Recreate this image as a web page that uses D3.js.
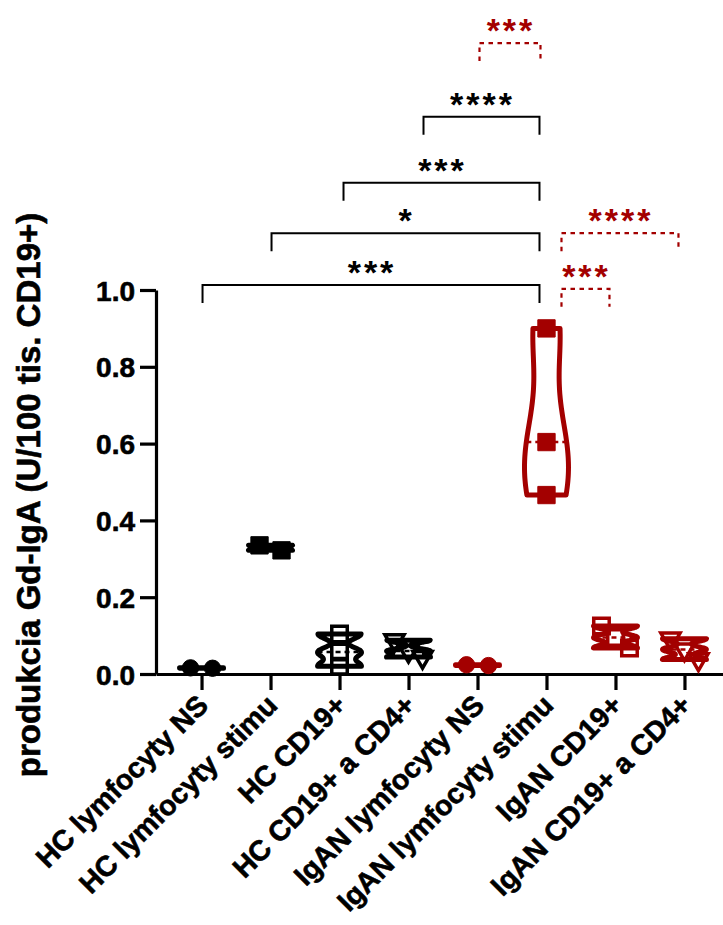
<!DOCTYPE html>
<html>
<head>
<meta charset="utf-8">
<script src="https://cdn.jsdelivr.net/npm/d3@7"></script>
<style>
  body { margin: 0; background: #fff; }
  text { font-family: "Liberation Sans", Arial, sans-serif; font-weight: bold; }
</style>
</head>
<body>
<svg id="chart" width="723" height="925"></svg>
<script>
// data
const categories = ["HC lymfocyty NS", "HC lymfocyty stimu", "HC CD19+", "HC CD19+ a CD4+",
                    "IgAN lymfocyty NS", "IgAN lymfocyty stimu", "IgAN CD19+", "IgAN CD19+ a CD4+"];
const cohorts = ["HC", "HC", "HC", "HC", "IgAN", "IgAN", "IgAN", "IgAN"];
const values = [
  [0.016, 0.015],
  [0.335, 0.322],
  [0.104, 0.057, 0.020],
  [0.088, 0.060, 0.044],
  [0.024, 0.022],
  [0.900, 0.604, 0.466],
  [0.125, 0.095, 0.068],
  [0.092, 0.064, 0.038]
];
const markers = ["circle", "square", "openSquare", "openTriangleDown",
                 "circle", "square", "openSquare", "openTriangleDown"];
const yTicks = [0, 0.2, 0.4, 0.6, 0.8, 1.0];
// significance brackets: from group, to group, label
const comparisons = [
  { a: 0, b: 5, label: "***",  cohort: "HC" },
  { a: 1, b: 5, label: "*",    cohort: "HC" },
  { a: 2, b: 5, label: "***",  cohort: "HC" },
  { a: 3, b: 5, label: "****", cohort: "HC" },
  { a: 4, b: 5, label: "***",  cohort: "IgAN" },
  { a: 5, b: 7, label: "****", cohort: "IgAN" },
  { a: 5, b: 6, label: "***",  cohort: "IgAN" }
];

const colors = { HC: "#000000", IgAN: "#a30000" };

// layout
const svg = d3.select("#chart");
const y = d3.scaleLinear().domain([0, 1]).range([674, 290]);
const x = d3.scalePoint().domain(categories).range([156, 730]).padding(0.66);

// bracket levels (in y units) and end nudges, as GraphPad stacks them
const bracketLayout = [
  { level: 1.013, da: 1,  db: -7 },
  { level: 1.148, da: 1,  db: -7 },
  { level: 1.279, da: 4,  db: -7 },
  { level: 1.451, da: 15, db: -7 },
  { level: 1.643, da: 2,  db: -6 },
  { level: 1.148, da: 15, db: -6 },
  { level: 1.003, da: 15, db: -6 }
];

// heavier look of the original bold text
function heavy(sel, col) {
  sel.attr("stroke", col || "#000").attr("stroke-width", 0.6).attr("paint-order", "stroke");
}

// y axis
const yAxis = svg.append("g")
  .attr("transform", "translate(156,0)")
  .call(d3.axisLeft(y).tickValues(yTicks).tickFormat(d3.format(".1f")).tickSize(16).tickSizeOuter(0));
yAxis.select(".domain").attr("stroke-width", 3.2);
yAxis.selectAll(".tick line").attr("stroke-width", 3.2);
yAxis.selectAll(".tick text").attr("font-size", 28).attr("x", -21).attr("dy", "0.36em")
  .attr("font-family", "Liberation Sans, Arial, sans-serif").attr("font-weight", "bold").attr("fill", "#000")
  .call(heavy);

// x axis
const xAxis = svg.append("g")
  .attr("transform", "translate(0,674)")
  .call(d3.axisBottom(x).tickSize(16).tickSizeOuter(0));
xAxis.select(".domain").attr("stroke-width", 3.2);
xAxis.selectAll(".tick line").attr("stroke-width", 3.2);
xAxis.selectAll(".tick text")
  .attr("font-size", 28.5)
  .attr("font-family", "Liberation Sans, Arial, sans-serif").attr("font-weight", "bold").attr("fill", "#000")
  .attr("text-anchor", "end")
  .attr("transform", "translate(8,33) rotate(-45)")
  .attr("x", 0).attr("y", 0).attr("dy", 0)
  .call(heavy);

// y title
svg.append("text")
  .attr("transform", "translate(40,495) rotate(-90)")
  .attr("text-anchor", "middle")
  .attr("font-size", 33)
  .text("produkcia Gd-IgA (U/100 tis. CD19+)")
  .call(heavy);

// violins (kernel density truncated at min/max)
function kde(vals, h) {
  return v => d3.sum(vals, d => Math.exp(-((v - d) ** 2) / (2 * h * h)));
}
const halfWidth = 22;
values.forEach((vals, i) => {
  const cx = x(categories[i]);
  const lo = d3.min(vals), hi = d3.max(vals);
  const sd = d3.deviation(vals) || 0.001;
  const h = 0.89 * Math.pow(sd, 1.33);
  const dens = kde(vals, h);
  const grid = d3.range(0, 61).map(k => lo + (hi - lo) * k / 60);
  const dmax = d3.max(grid, dens);
  const pts = grid.map(v => ({ v, w: dens(v) / dmax * halfWidth }));
  const area = d3.area()
    .y(d => y(d.v))
    .x0(d => cx - d.w)
    .x1(d => cx + d.w)
    .curve(d3.curveBasis);
  svg.append("path")
    .datum(pts)
    .attr("d", area)
    .attr("fill", "none")
    .attr("stroke", colors[cohorts[i]])
    .attr("stroke-width", 5)
    .attr("stroke-linejoin", "round");
  // median line
  const med = d3.median(vals);
  const mw = dens(med) / dmax * halfWidth;
  svg.append("line")
    .attr("x1", cx - mw).attr("x2", cx + mw)
    .attr("y1", y(med)).attr("y2", y(med))
    .attr("stroke", colors[cohorts[i]])
    .attr("stroke-width", 2.5)
    .attr("stroke-dasharray", "5,4");
});

// points, spread sideways when they overlap
function spread(vals) {
  const order = vals.map((v, i) => i).sort((p, q) => vals[q] - vals[p]);
  const off = new Array(vals.length).fill(0);
  let cluster = [order[0]];
  const flush = () => {
    const n = cluster.length;
    const step = n === 2 ? 22 : 14;
    cluster.forEach((idx, k) => { off[idx] = (k - (n - 1) / 2) * step; });
  };
  for (let k = 1; k < order.length; k++) {
    const prev = order[k - 1], cur = order[k];
    if (Math.abs(y(vals[cur]) - y(vals[prev])) < 14) cluster.push(cur);
    else { flush(); cluster = [cur]; }
  }
  flush();
  return off;
}

const symbolFor = {
  circle: d3.symbol().type(d3.symbolCircle).size(210),
  square: d3.symbol().type(d3.symbolSquare).size(300),
  openSquare: d3.symbol().type(d3.symbolSquare).size(240),
  openTriangleDown: d3.symbol().type(d3.symbolTriangle).size(160)
};

values.forEach((vals, i) => {
  const cx = x(categories[i]);
  const off = spread(vals);
  const col = colors[cohorts[i]];
  const m = markers[i];
  const open = m.startsWith("open");
  svg.append("g").selectAll("path")
    .data(vals)
    .join("path")
    .attr("d", symbolFor[m]())
    .attr("transform", (d, k) => `translate(${cx + off[k]},${y(d)})` + (m === "openTriangleDown" ? " rotate(180)" : ""))
    .attr("fill", open ? "none" : col)
    .attr("stroke", col)
    .attr("stroke-width", open ? 3.5 : 1);
});

// significance brackets
comparisons.forEach((c, i) => {
  const L = bracketLayout[i];
  const col = colors[c.cohort];
  const x1 = x(categories[c.a]) + L.da;
  const x2 = x(categories[c.b]) + L.db;
  const yy = y(L.level);
  const dashed = c.cohort === "IgAN";
  svg.append("path")
    .attr("d", `M${x1},${yy + 18}V${yy}H${x2}V${yy + 18}`)
    .attr("fill", "none")
    .attr("stroke", col)
    .attr("stroke-width", dashed ? 2.2 : 2)
    .attr("stroke-dasharray", dashed ? "4.5,4.5" : null);
  svg.append("text")
    .attr("x", (x1 + x2) / 2 + 1)
    .attr("y", yy - 1)
    .attr("text-anchor", "middle")
    .attr("font-size", 34)
    .attr("letter-spacing", 3)
    .attr("fill", col)
    .text(c.label);
});
</script>
</body>
</html>
